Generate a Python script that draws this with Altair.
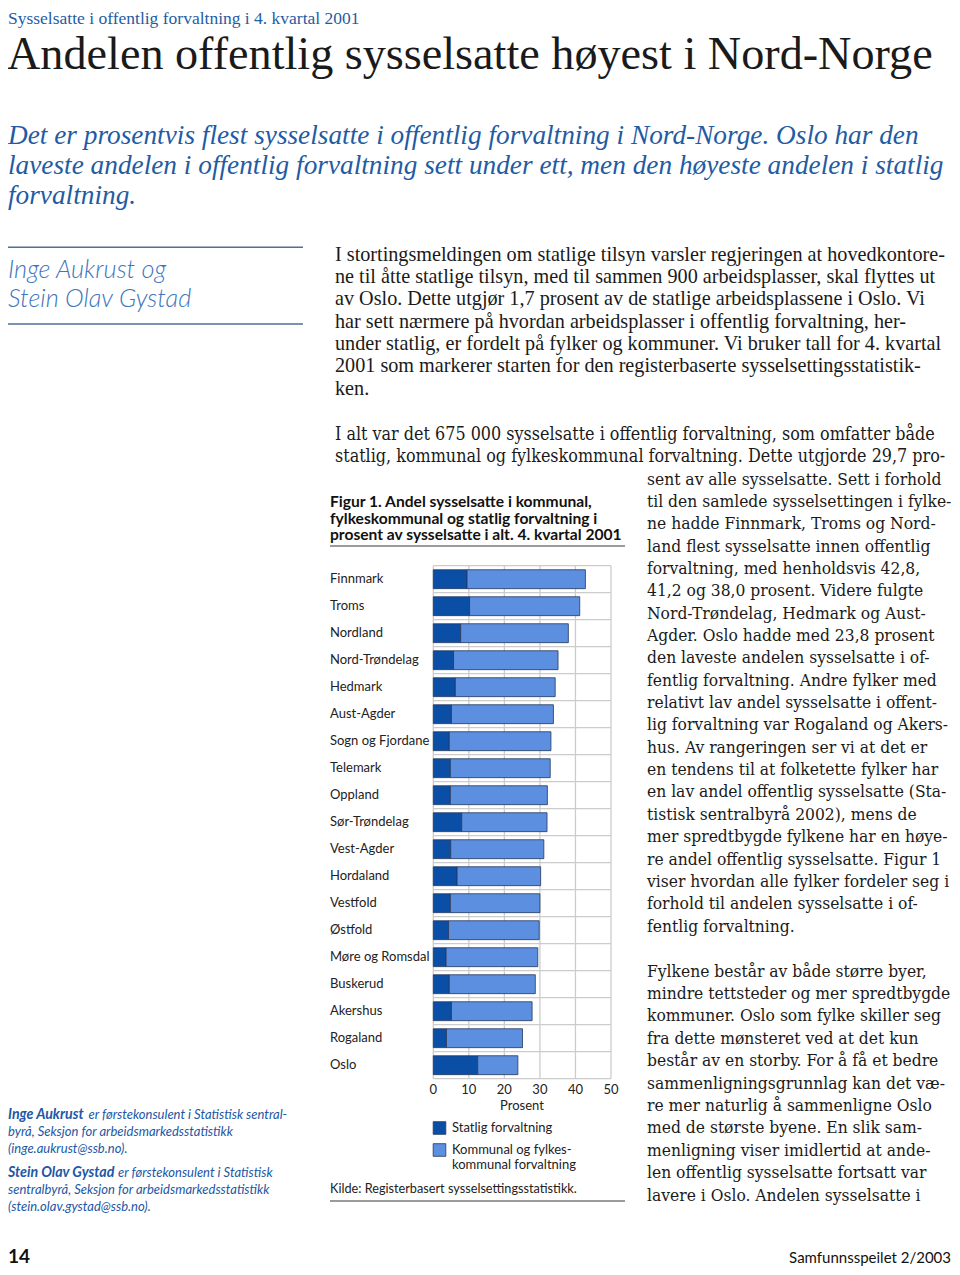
import altair as alt
import pandas as pd

# ---------------- data ----------------
counties = ["Finnmark", "Troms", "Nordland", "Nord-Trøndelag", "Hedmark", "Aust-Agder",
            "Sogn og Fjordane", "Telemark", "Oppland", "Sør-Trøndelag", "Vest-Agder",
            "Hordaland", "Vestfold", "Østfold", "Møre og Romsdal", "Buskerud",
            "Akershus", "Rogaland", "Oslo"]
statlig = [9.5, 10.2, 7.7, 5.7, 6.2, 5.1, 4.5, 4.8, 4.8, 8.0, 4.9,
           6.7, 4.8, 4.3, 3.6, 4.5, 5.1, 3.7, 12.5]
total = [42.8, 41.2, 38.0, 35.1, 34.3, 33.8, 33.1, 32.9, 32.1, 32.0, 31.1,
         30.2, 30.0, 29.8, 29.4, 28.7, 27.8, 25.1, 23.8]
sectors = ["Statlig forvaltning", "Kommunal og fylkeskommunal forvaltning"]
tick_values = [0, 10, 20, 30, 40, 50]

header_text = "Sysselsatte i offentlig forvaltning i 4. kvartal 2001"
title_text = "Andelen offentlig sysselsatte høyest i Nord-Norge"
lead_lines = [
    "Det er prosentvis flest sysselsatte i offentlig forvaltning i Nord-Norge. Oslo har den",
    "laveste andelen i offentlig forvaltning sett under ett, men den høyeste andelen i statlig",
    "forvaltning.",
]
author_lines = ["Inge Aukrust og", "Stein Olav Gystad"]
intro_lines = [
    "I stortingsmeldingen om statlige tilsyn varsler regjeringen at hovedkontore-",
    "ne til åtte statlige tilsyn, med til sammen 900 arbeidsplasser, skal flyttes ut",
    "av Oslo. Dette utgjør 1,7 prosent av de statlige arbeidsplassene i Oslo. Vi",
    "har sett nærmere på hvordan arbeidsplasser i offentlig forvaltning, her-",
    "under statlig, er fordelt på fylker og kommuner. Vi bruker tall for 4. kvartal",
    "2001 som markerer starten for den registerbaserte sysselsettingsstatistik-",
    "ken.",
]
para2_top = [
    "I alt var det 675 000 sysselsatte i offentlig forvaltning, som omfatter både",
    "statlig, kommunal og fylkeskommunal forvaltning. Dette utgjorde 29,7 pro-",
]
para2_col = [
    "sent av alle sysselsatte. Sett i forhold",
    "til den samlede sysselsettingen i fylke-",
    "ne hadde Finnmark, Troms og Nord-",
    "land flest sysselsatte innen offentlig",
    "forvaltning, med henholdsvis 42,8,",
    "41,2 og 38,0 prosent. Videre fulgte",
    "Nord-Trøndelag, Hedmark og Aust-",
    "Agder. Oslo hadde med 23,8 prosent",
    "den laveste andelen sysselsatte i of-",
    "fentlig forvaltning. Andre fylker med",
    "relativt lav andel sysselsatte i offent-",
    "lig forvaltning var Rogaland og Akers-",
    "hus. Av rangeringen ser vi at det er",
    "en tendens til at folketette fylker har",
    "en lav andel offentlig sysselsatte (Sta-",
    "tistisk sentralbyrå 2002), mens de",
    "mer spredtbygde fylkene har en høye-",
    "re andel offentlig sysselsatte. Figur 1",
    "viser hvordan alle fylker fordeler seg i",
    "forhold til andelen sysselsatte i of-",
    "fentlig forvaltning.",
]
para3_lines = [
    "Fylkene består av både større byer,",
    "mindre tettsteder og mer spredtbygde",
    "kommuner. Oslo som fylke skiller seg",
    "fra dette mønsteret ved at det kun",
    "består av en storby. For å få et bedre",
    "sammenligningsgrunnlag kan det væ-",
    "re mer naturlig å sammenligne Oslo",
    "med de største byene. En slik sam-",
    "menligning viser imidlertid at ande-",
    "len offentlig sysselsatte fortsatt var",
    "lavere i Oslo. Andelen sysselsatte i",
]
caption_lines = [
    "Figur 1. Andel sysselsatte i kommunal,",
    "fylkeskommunal og statlig forvaltning i",
    "prosent av sysselsatte i alt. 4. kvartal 2001",
]
axis_title = "Prosent"
legend_lines_1 = ["Statlig forvaltning"]
legend_lines_2 = ["Kommunal og fylkes-", "kommunal forvaltning"]
source_text = "Kilde: Registerbasert sysselsettingsstatistikk."
bio1_name = "Inge Aukrust"
bio1_lines = [" er førstekonsulent i Statistisk sentral-"]
bio1_more = ["byrå, Seksjon for arbeidsmarkedsstatistikk", "(inge.aukrust@ssb.no)."]
bio2_name = "Stein Olav Gystad"
bio2_lines = [" er førstekonsulent i Statistisk"]
bio2_more = ["sentralbyrå, Seksjon for arbeidsmarkedsstatistikk", "(stein.olav.gystad@ssb.no)."]
page_no = "14"
journal = "Samfunnsspeilet 2/2003"

# ---------------- tables ----------------
bars = pd.DataFrame({
    "county": counties * 2,
    "sector": [sectors[0]] * len(counties) + [sectors[1]] * len(counties),
    "start": [0] * len(counties) + statlig,
    "end": statlig + total,
})
county_df = pd.DataFrame({"county": counties})
tick_df = pd.DataFrame({"tick": tick_values})
sector_df = pd.DataFrame({"sector": sectors})
one = pd.DataFrame({"k": [0]})

# ---------------- styling ----------------
W, H = 944, 1259
DARK, LIGHT = "#0b4ea6", "#5d8fe0"
BLUE_TXT = "#1f5ca3"
SERIF = "Liberation Serif"
BODY = "DejaVu Serif Condensed"
SANS = "Lato"

xs = alt.Scale(domain=[0, 50], range=[425.3, 603])
ys = alt.Scale(domain=counties, range=[557.7, 1070.7], paddingInner=0.3, paddingOuter=0.15)
cs = alt.Scale(domain=sectors, range=[DARK, LIGHT])
STEP = (1070.7 - 557.7) / len(counties)


def text_block(lines, x, y, size, font, color="#1a1a1a", lh=None, style="normal",
               weight="normal", align="left", baseline="alphabetic"):
    return alt.Chart(one).mark_text(
        align=align, baseline=baseline, font=font, fontSize=size, color=color,
        fontStyle=style, fontWeight=weight, lineBreak="\n",
        lineHeight=lh if lh else size * 1.2,
    ).encode(x=alt.value(x), y=alt.value(y), text=alt.value("\n".join(lines)))


def hrule(x1, x2, y, color, width):
    return alt.Chart(one).mark_rule(color=color, strokeWidth=width).encode(
        x=alt.value(x1), x2=alt.value(x2), y=alt.value(y))


layers = []
# header texts
layers.append(text_block([header_text], 0, 15.7, 17.5, SERIF, BLUE_TXT))
layers.append(text_block([title_text], -1, 61, 46.2, SERIF, "#1a1a1a"))
layers.append(text_block(lead_lines, 0, 135.5, 27.3, SERIF, BLUE_TXT, lh=30, style="italic"))
# author block
layers.append(hrule(0, 295, 239.3, "#4f6f96", 1.5))
layers.append(text_block(author_lines[:1], 0, 270.3, 25.3, SANS, "#3d76bd", style="italic", weight=300))
layers.append(text_block(author_lines[1:], 0, 299.3, 25.3, SANS, "#3d76bd", style="italic", weight=300))
layers.append(hrule(0, 295, 316, "#4f6f96", 1.5))
# body
layers.append(text_block(intro_lines, 327, 252.6, 20.2, SERIF, "#1a1a1a", lh=22.33))
layers.append(text_block(para2_top, 327, 431.6, 17.8, BODY, "#1a1a1a", lh=22.4))
layers.append(text_block(para2_col, 639, 476.6, 17.3, BODY, "#1a1a1a", lh=22.35))
layers.append(text_block(para3_lines, 639, 968.6, 17.3, BODY, "#1a1a1a", lh=22.4))
# figure caption
layers.append(text_block(caption_lines, 322, 499, 15.6, SANS, "#111111", lh=16.5, weight="bold"))
layers.append(hrule(322, 617, 538, "#7a7a7a", 1.5))

# chart grid
grid = alt.Chart(tick_df).mark_rule(color="#cccccc", strokeWidth=1.3).encode(
    x=alt.X("tick:Q", scale=xs, axis=None), y=alt.value(557.7), y2=alt.value(1070.7))
rows = alt.Chart(county_df).transform_calculate(lo="0", hi="50").mark_rule(
    color="#cccccc", strokeWidth=1.3, yOffset=-STEP * 0.15).encode(
    y=alt.Y("county:N", scale=ys, axis=None, bandPosition=0),
    x=alt.X("lo:Q", scale=xs, axis=None), x2="hi:Q")
rows_end = alt.Chart(county_df).transform_filter(
    alt.datum.county == counties[-1]).transform_calculate(lo="0", hi="50").mark_rule(
    color="#cccccc", strokeWidth=1.3, yOffset=STEP * 0.15).encode(
    y=alt.Y("county:N", scale=ys, axis=None, bandPosition=1),
    x=alt.X("lo:Q", scale=xs, axis=None), x2="hi:Q")
bar_layer = alt.Chart(bars).mark_bar(stroke="#24385c", strokeWidth=0.8).encode(
    y=alt.Y("county:N", scale=ys, axis=None),
    x=alt.X("start:Q", scale=xs, axis=None), x2="end:Q",
    color=alt.Color("sector:N", scale=cs, legend=None))
labels = alt.Chart(county_df).mark_text(align="left", baseline="middle", font=SANS,
                                        fontSize=13, color="#222222").encode(
    y=alt.Y("county:N", scale=ys, axis=None), x=alt.value(322), text="county:N")
ticks = alt.Chart(tick_df).mark_text(align="center", baseline="middle", font=SANS,
                                     fontSize=13, color="#222222").encode(
    x=alt.X("tick:Q", scale=xs, axis=None), y=alt.value(1082), text="tick:Q")
layers += [grid, rows, rows_end, bar_layer, labels, ticks]
layers.append(text_block([axis_title], 514, 1098, 13, SANS, "#222222", align="center", baseline="middle"))

# legend
for i, yy in enumerate([1120, 1142]):
    layers.append(alt.Chart(sector_df).transform_filter(alt.datum.sector == sectors[i]).mark_square(
        size=160, opacity=1, stroke="#24385c", strokeWidth=0.8).encode(
        x=alt.value(431.5), y=alt.value(yy),
        color=alt.Color("sector:N", scale=cs, legend=None)))
layers.append(text_block(legend_lines_1, 444, 1120, 13, SANS, "#222222", baseline="middle"))
layers.append(text_block(legend_lines_2, 444, 1146, 13, SANS, "#222222", lh=15))
layers.append(text_block([source_text], 322, 1181, 12.7, SANS, "#222222", baseline="middle"))
layers.append(hrule(322, 617, 1193, "#7a7a7a", 1.5))

# bios
layers.append(text_block([bio1_name], 0, 1110.5, 14.2, SANS, "#2257a5", style="italic", weight="bold"))
layers.append(text_block(bio1_lines, 80.5, 1110.5, 13, SANS, "#2257a5", style="italic"))
layers.append(text_block(bio1_more, 0, 1127.5, 13, SANS, "#2257a5", lh=17, style="italic"))
layers.append(text_block([bio2_name], 0, 1169, 14.2, SANS, "#2257a5", style="italic", weight="bold"))
layers.append(text_block(bio2_lines, 110, 1169, 13, SANS, "#2257a5", style="italic"))
layers.append(text_block(bio2_more, 0, 1186, 13, SANS, "#2257a5", lh=17, style="italic"))

# footer
layers.append(text_block([page_no], 0, 1254.5, 19, SANS, "#111111", weight="bold"))
layers.append(text_block([journal], 943, 1255, 15, SANS, "#111111", align="right"))

chart = alt.layer(*layers).properties(
    width=W, height=H, padding=0, autosize=alt.AutoSizeParams(type="none")
).configure_view(stroke=None)

chart.save("out.html", embed_options={"renderer": "svg", "actions": False})
